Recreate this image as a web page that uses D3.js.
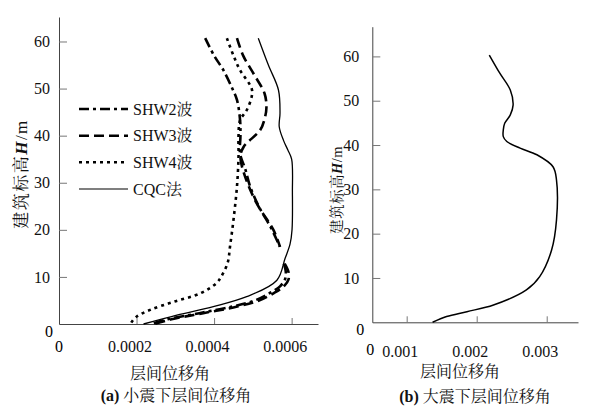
<!DOCTYPE html>
<html><head><meta charset="utf-8">
<script src="https://cdn.jsdelivr.net/npm/d3@7"></script>
</head>
<body style="margin:0;background:#fff">
<svg id="c" width="603" height="417"></svg>
<script>
// ---------- data ----------
const xTicksSmall = [0.0002, 0.0004, 0.0006];
const xTickLabelsSmall = ["0.0002", "0.0004", "0.0006"];
const xTicksLarge = [0.001, 0.002, 0.003];
const xTickLabelsLarge = ["0.001", "0.002", "0.003"];
const yTicks = [10, 20, 30, 40, 50, 60];
const seriesNames = ["SHW2波", "SHW3波", "SHW4波", "CQC法"];

// small earthquake (null = break in the curve)
const shw2H = [60.7, 57, 53.9, 50, 47.6, 43.3, 40, 36.2, 33, 29.2, 25, 20.7, 17.1, 16.4, null, 12.8, 11, 9.5, 8, 6.5, 5, 3.7, 2.3, 1, 0];
const shw2V = [0.000377, 0.0004, 0.000424, 0.000447, 0.000459, 0.000467, 0.000468, 0.000467, 0.00048, 0.000493, 0.000515, 0.000545, 0.000566, 0.00057, null, 0.00058, 0.000585, 0.000583, 0.00057, 0.000542, 0.000505, 0.000447, 0.000362, 0.00028, 0.000238];
const shw3H = [60.7, 57, 53, 49, 46, 43.5, 41.2, 37.6, 35.5, 31.3, 25.6, 20, 16.4, null, 12.8, 11, 9.5, 8, 6.5, 5, 3.7, 2.3, 1, 0];
const shw3V = [0.000459, 0.000475, 0.000503, 0.00053, 0.000535, 0.00053, 0.000519, 0.000476, 0.000468, 0.00048, 0.00051, 0.000553, 0.00057, null, 0.000582, 0.000592, 0.000592, 0.00058, 0.000553, 0.000516, 0.00046, 0.000372, 0.00029, 0.000245];
const shw4H = [60.7, 57, 53.9, 50, 48.3, 45.4, 43.3, 40, 35.5, 29.2, 22.1, 16.4, 13, 10, 8.6, 6.5, 4.7, 3, 1.55, 0.5, 0];
const shw4V = [0.000433, 0.00045, 0.000467, 0.000497, 0.000497, 0.000484, 0.000467, 0.000463, 0.000463, 0.000459, 0.00045, 0.000441, 0.000435, 0.000418, 0.000405, 0.000364, 0.000295, 0.000235, 0.0002, 0.000188, 0.000185];
const cqcSmallH = [60.7, 55, 49.7, 44.8, 41.9, 39, 37, 35, 28, 20, 17, 13.9, 9.3, 5.8, 3.7, 1.9, 0];
const cqcSmallV = [0.000514, 0.00054, 0.000566, 0.00057, 0.000568, 0.000579, 0.00059, 0.0006, 0.000602, 0.000601, 0.000596, 0.000583, 0.000562, 0.000484, 0.000398, 0.000304, 0.000218];

// large earthquake
const cqcLargeH = [60.3, 56.2, 52.4, 49, 46.8, 44.9, 43.4, 41.9, 40.8, 39.3, 37.8, 35.1, 32.1, 23.1, 16.3, 10.3, 7.3, 3.9, 2.4, 1.3, 0];
const cqcLargeV = [0.00218, 0.00233, 0.00248, 0.00252, 0.00248, 0.0024, 0.00238, 0.00238, 0.00243, 0.00262, 0.00286, 0.00309, 0.00314, 0.00314, 0.00307, 0.0029, 0.00271, 0.00224, 0.00186, 0.00157, 0.00137];

// ---------- drawing ----------
const LATIN = '"Liberation Serif"';
const CJK = '"Noto Serif CJK SC"';
const svg = d3.select("#c");
const axisColor = "#444";

function pts(H, V){ return H.map((h,i)=>({h:h, v:V[i]})); }

// write a string into a text element, one tspan per script run
function rich(sel, str, opts){
  opts = opts || {};
  const runs = str.match(/[\u3400-\u9fff]+|[^\u3400-\u9fff]+/g) || [];
  runs.forEach(r=>{
    const cj = /[\u3400-\u9fff]/.test(r);
    const t = sel.append("tspan").text(r).style("font-family", cj ? CJK : LATIN);
    if (!cj && opts.boldLatin) t.attr("font-weight","bold");
  });
  return sel;
}

function panel(cfg){
  const g = svg.append("g");
  const x = d3.scaleLinear().domain(cfg.xDomain).range(cfg.xRange);
  const y = d3.scaleLinear().domain(cfg.yDomain).range(cfg.yRange);
  // y axis
  const ya = g.append("g").attr("transform",`translate(${cfg.xRange[0]},0)`)
    .call(d3.axisLeft(y).tickValues(yTicks).tickFormat(d3.format("d"))
      .tickSizeInner(-8).tickSizeOuter(0).tickPadding(cfg.yPad));
  ya.attr("font-family",null);
  ya.select(".domain").attr("stroke",axisColor);
  ya.selectAll(".tick line").attr("stroke","#777");
  ya.selectAll("text").attr("font-size",cfg.fs).attr("fill","#111").style("font-family",LATIN);
  // x axis
  const xa = g.append("g").attr("transform",`translate(0,${cfg.yRange[0]})`)
    .call(d3.axisBottom(x).tickValues(cfg.xTicks).tickFormat((d,i)=>cfg.xLabels[i])
      .tickSizeInner(-6).tickSizeOuter(0).tickPadding(cfg.xPad));
  xa.attr("font-family",null);
  xa.select(".domain").attr("stroke",axisColor);
  xa.selectAll(".tick line").attr("stroke","#777");
  xa.selectAll("text").attr("font-size",cfg.fs).attr("dx",-7).attr("fill","#111").style("font-family",LATIN);
  // origin labels
  g.append("text").attr("x",cfg.xRange[0]-cfg.origin0x).attr("y",cfg.yRange[0]+13)
    .attr("text-anchor","middle").attr("font-size",cfg.fs).style("font-family",LATIN).text("0");
  g.append("text").attr("x",cfg.xRange[0]+cfg.origin0dx).attr("y",cfg.yRange[0]+28 + cfg.xLabelShift)
    .attr("text-anchor","middle").attr("font-size",cfg.fs).style("font-family",LATIN).text("0");
  // curves
  const line = d3.line().defined(d=>d.h!==null && d.v!==null)
    .x(d=>x(d.v)).y(d=>y(d.h)).curve(d3.curveCatmullRom.alpha(0.5));
  cfg.series.forEach(s=>{
    g.append("path").datum(pts(s.H,s.V)).attr("d",line)
      .attr("fill","none").attr("stroke","#000").attr("stroke-width",s.w)
      .attr("stroke-dasharray",s.dash||null);
  });
  // axis title
  rich(g.append("text").attr("x",cfg.xTitleX).attr("y",cfg.xTitleY)
    .attr("text-anchor","middle").attr("font-size",16).attr("fill","#111"), "层间位移角");
  // y title
  const yt = g.append("text").attr("font-size",cfg.yTitleFs).attr("fill","#111")
    .attr("text-anchor","middle").attr("letter-spacing",cfg.yTitleLs)
    .attr("transform",`translate(${cfg.yTitleX},${cfg.yTitleY}) rotate(-90)`);
  rich(yt, "建筑标高");
  yt.append("tspan").attr("font-weight","bold").attr("font-style","italic").style("font-family",LATIN).text("H");
  yt.append("tspan").style("font-family",LATIN).text("/m");
  // caption
  rich(g.append("text").attr("x",cfg.capX).attr("y",cfg.capY)
    .attr("text-anchor","middle").attr("font-size",16).attr("fill","#111"), cfg.caption, {boldLatin:true});
  return {g,x,y};
}

const styles = [
  {dash:"10,4,3,4", w:2.6},
  {dash:"10,5", w:2.6},
  {dash:"3,4", w:2.6},
  {dash:null, w:1.3}
];

const L = panel({
  xDomain:[0, 0.000668], xRange:[59,318],
  yDomain:[0, 65.2], yRange:[324,17],
  xTicks:xTicksSmall, xLabels:xTickLabelsSmall,
  fs:16, yPad:9, xPad:17, origin0x:10, origin0dx:0, xLabelShift:0,
  series:[
    {H:shw2H,V:shw2V,...styles[0]},
    {H:shw3H,V:shw3V,...styles[1]},
    {H:shw4H,V:shw4V,...styles[2]},
    {H:cqcSmallH,V:cqcSmallV,...styles[3]}
  ],
  xTitleX:170, xTitleY:379, yTitleX:27, yTitleY:174, yTitleFs:17, yTitleLs:1.5,
  capX:176, capY:401, caption:"(a) 小震下层间位移角"
});

const R = panel({
  xDomain:[0.000509, 0.003447], xRange:[372.3,578],
  yDomain:[0, 66.7], yRange:[322.3,26.7],
  xTicks:xTicksLarge, xLabels:xTickLabelsLarge,
  fs:16, yPad:13, xPad:23.5, origin0x:12, origin0dx:-2, xLabelShift:5,
  series:[{H:cqcLargeH,V:cqcLargeV,dash:null,w:1.5}],
  xTitleX:460, xTitleY:377, yTitleX:342, yTitleY:190, yTitleFs:14.5, yTitleLs:0.5,
  capX:475, capY:402, caption:"(b) 大震下层间位移角"
});

// legend
const legY = [109, 135.7, 162.3, 189];
const leg = svg.append("g");
seriesNames.forEach((name,i)=>{
  leg.append("line").attr("x1",79).attr("x2",128).attr("y1",legY[i]).attr("y2",legY[i])
    .attr("stroke","#000").attr("stroke-width",i===3?1.2:2.6)
    .attr("stroke-dasharray",styles[i].dash);
  rich(leg.append("text").attr("x",133).attr("y",legY[i]+5.5)
    .attr("font-size",16).attr("fill","#111"), name);
});
</script>
</body></html>
